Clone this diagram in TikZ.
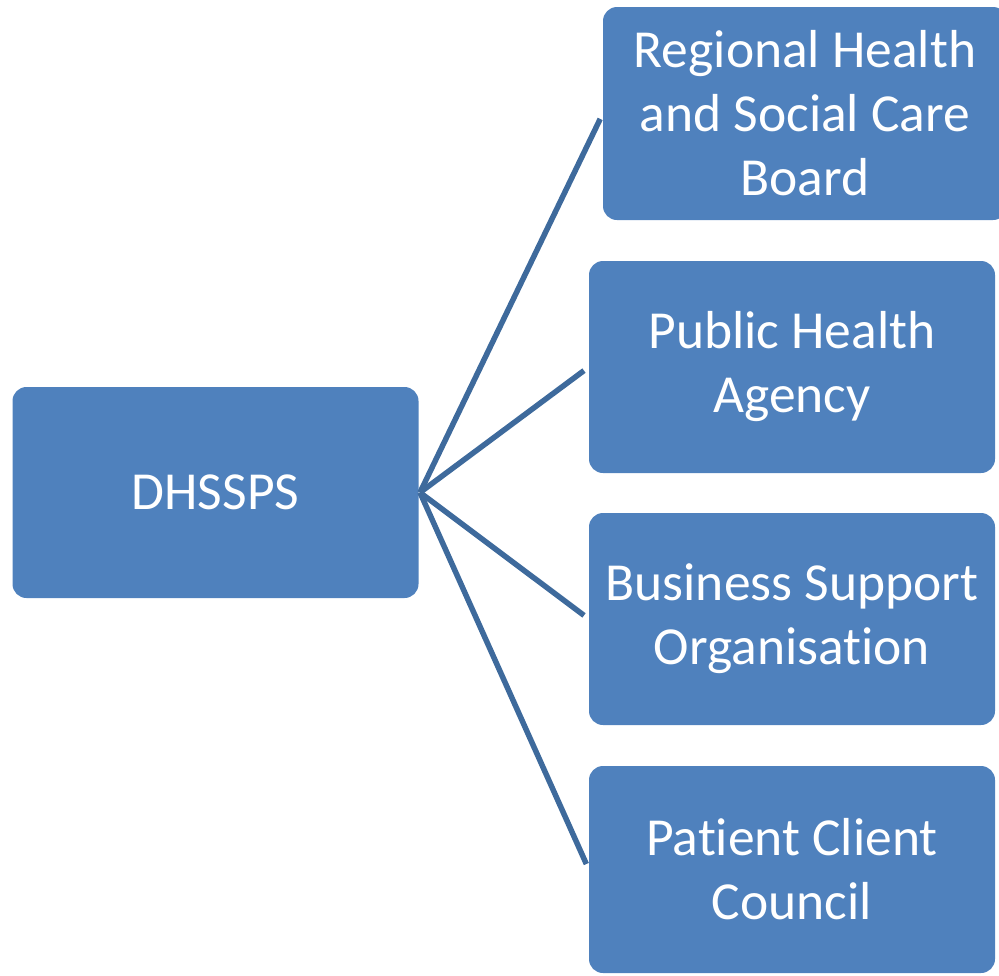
\documentclass[tikz,border=0pt]{standalone}
\usepackage{fontspec}
\setmainfont[Ligatures=NoCommon]{Carlito}
\definecolor{boxblue}{HTML}{4F81BD}
\definecolor{lineblue}{HTML}{3E6A9C}
\begin{document}
\begin{tikzpicture}[x=1pt,y=-1pt,
  orgbox/.style={fill=boxblue, draw=none, rounded corners=14pt, text=white,
    minimum width=406pt, minimum height=211pt, align=center, inner sep=0pt,
    font=\fontsize{53.5}{64}\selectfont},
  link/.style={draw=lineblue, line width=5.5pt, shorten >=6pt}]
\useasboundingbox (0,0) rectangle (999,975);
\node[orgbox, minimum height=211pt] (d) at (215.5,492.5) {DHSSPS};
\node[orgbox, minimum width=404pt, minimum height=213pt] (r) at (805,113.5) {Regional Health\\and Social Care\\Board};
\node[orgbox, minimum height=212pt] (p) at (792,367) {Public Health\\Agency};
\node[orgbox, minimum height=212pt] (b) at (792,619) {Business Support\\Organisation};
\node[orgbox, minimum height=207pt] (c) at (792,869.5) {Patient Client\\Council};
\coordinate (hub) at (420,492.5);
\foreach \t in {r,p,b,c} \draw[link] (hub) -- (\t.west);
\end{tikzpicture}
\end{document}
